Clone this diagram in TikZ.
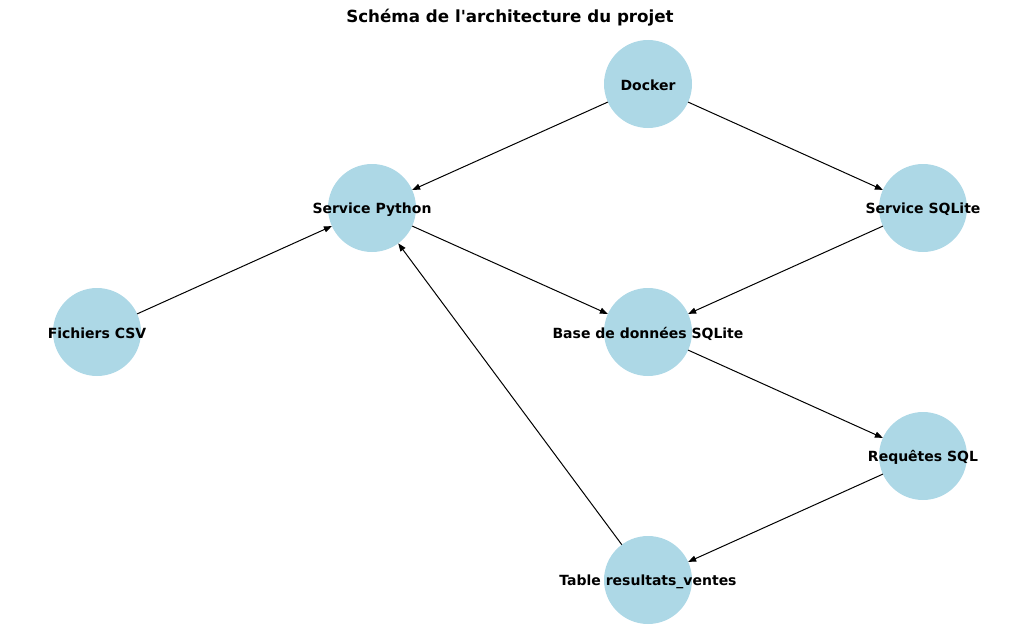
\documentclass[tikz,border=0pt]{standalone}
\usepackage{fontspec}
\setmainfont{DejaVu Sans}
\usetikzlibrary{arrows.meta}
\definecolor{nodeblue}{HTML}{ADD8E6}
\begin{document}
\begin{tikzpicture}[x=1pt,y=-1pt,
  gnode/.style={circle,fill=nodeblue,minimum size=88pt,inner sep=0pt,outer sep=0pt},
  glabel/.style={font=\bfseries\fontsize{14}{16}\selectfont,text=black,yshift=-1.5pt},
  edge/.style={draw=black,line width=1pt,-{Triangle[length=8pt,width=6pt]}}]
\useasboundingbox (0,0) rectangle (1019,642);
\node[font=\bfseries\fontsize{16.7}{19}\selectfont] (title) at (510,18) {Schéma de l\textquotesingle architecture du projet};
\node[gnode] (docker) at (648,84) {};
\node[gnode] (python) at (372,208) {};
\node[gnode] (sqlite) at (923,208) {};
\node[gnode] (csv) at (97,332) {};
\node[gnode] (base) at (648,332) {};
\node[gnode] (req) at (923,456) {};
\node[gnode] (table) at (648,580) {};
\draw[edge] (docker) -- (python);
\draw[edge] (docker) -- (sqlite);
\draw[edge] (python) -- (base);
\draw[edge] (sqlite) -- (base);
\draw[edge] (csv) -- (python);
\draw[edge] (base) -- (req);
\draw[edge] (req) -- (table);
\draw[edge] (table) -- (python);
\node[glabel] (ldocker) at (docker) {Docker};
\node[glabel] (lpython) at (python) {Service Python};
\node[glabel] (lsqlite) at (sqlite) {Service SQLite};
\node[glabel] (lcsv) at (csv) {Fichiers CSV};
\node[glabel] (lbase) at (base) {Base de données SQLite};
\node[glabel] (lreq) at (req) {Requêtes SQL};
\node[glabel] (ltable) at (table) {Table resultats\_ventes};
\end{tikzpicture}
\end{document}
